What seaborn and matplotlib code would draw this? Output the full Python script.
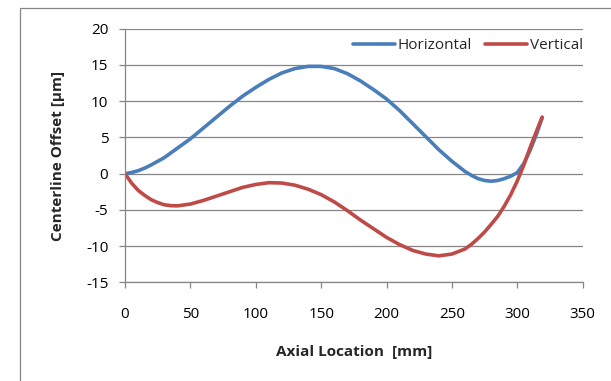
import matplotlib
matplotlib.use("Agg")
import matplotlib.pyplot as plt
from matplotlib.patches import Rectangle
import pandas as pd
import seaborn as sns

# Axial positions [mm] and measured centerline offsets [µm]
axial_mm = [0, 5, 10, 15, 20, 25, 30, 35, 40, 50, 60, 70, 80, 90, 100, 110, 120,
            130, 140, 150, 160, 170, 180, 190, 200, 210, 220, 230, 240, 250, 260,
            265, 270, 275, 280, 285, 290, 295, 300, 305, 310, 315, 319]
horizontal_um = [0.0, 0.15, 0.4, 0.75, 1.2, 1.7, 2.2, 2.85, 3.5, 4.8, 6.3, 7.8,
                 9.3, 10.7, 11.9, 13.0, 13.9, 14.5, 14.8, 14.8, 14.5, 13.8, 12.8,
                 11.6, 10.3, 8.7, 6.9, 5.1, 3.3, 1.7, 0.3, -0.25, -0.7, -0.95,
                 -1.05, -0.95, -0.7, -0.35, 0.15, 1.4, 3.3, 5.6, 7.7]
vertical_um = [0.0, -1.3, -2.3, -3.0, -3.6, -4.0, -4.3, -4.42, -4.45, -4.2,
               -3.7, -3.1, -2.5, -1.9, -1.5, -1.25, -1.3, -1.6, -2.15, -2.9, -3.9,
               -5.1, -6.4, -7.6, -8.8, -9.8, -10.6, -11.1, -11.35, -11.1, -10.4,
               -9.75, -8.95, -8.05, -7.0, -5.9, -4.5, -2.9, -1.0, 1.2, 3.7, 6.0, 7.8]
series_names = ["Horizontal", "Vertical"]
series_colors = ["#4A7EBB", "#BE4B48"]

x_ticks = [0, 50, 100, 150, 200, 250, 300, 350]
y_ticks = [-15, -10, -5, 0, 5, 10, 15, 20]

df = pd.DataFrame({
    "Axial Location [mm]": axial_mm * 2,
    "Offset": horizontal_um + vertical_um,
    "Direction": [series_names[0]] * len(axial_mm) + [series_names[1]] * len(axial_mm),
})

sns.set_theme(style="white")
plt.rcParams["font.family"] = ["Open Sans", "DejaVu Sans"]
plt.rcParams["axes.unicode_minus"] = False

grey = "#868686"
fs = 11
fig = plt.figure(figsize=(6.11, 3.81), dpi=100)
ax = fig.add_axes([125 / 611, 1 - 282.3 / 381, (582.7 - 125) / 611, (282.3 - 28.7) / 381])

sns.lineplot(data=df, x="Axial Location [mm]", y="Offset", hue="Direction",
             palette=dict(zip(series_names, series_colors)), linewidth=2.6,
             ax=ax, legend=True, sort=False)

ax.set_xlim(0, 350)
ax.set_ylim(-15, 20)
ax.set_xticks(x_ticks)
ax.set_yticks(y_ticks)
ax.yaxis.grid(True, color=grey, linewidth=0.9)
ax.xaxis.grid(False)
ax.set_axisbelow(True)
for side in ("top", "right"):
    ax.spines[side].set_visible(False)
for side in ("left", "bottom"):
    ax.spines[side].set_color(grey)
    ax.spines[side].set_linewidth(0.9)
ax.xaxis.set_ticks_position("bottom")
ax.yaxis.set_ticks_position("left")
ax.tick_params(axis="both", which="major", direction="out", length=4, width=0.9,
               color=grey, labelsize=fs, labelcolor="black")
ax.tick_params(axis="x", pad=14)
ax.tick_params(axis="y", pad=8)

ax.set_xlabel("Axial Location  [mm]", fontsize=fs, fontweight="bold", labelpad=16)
ax.set_ylabel("Centerline Offset [µm]", fontsize=fs, fontweight="bold", labelpad=15)

leg = ax.legend(loc="center right", ncol=2, frameon=False, fontsize=fs,
                handlelength=2.75, handletextpad=0.15, columnspacing=0.9,
                bbox_to_anchor=(1.0, 0.934), borderaxespad=0.0, borderpad=0.0)
for line in leg.get_lines():
    line.set_linewidth(2.6)

# Chart-area border (left and top edges visible)
fig.add_artist(Rectangle((20 / 611, -0.1), 1.2, 1.1 - 8 / 381,
                         transform=fig.transFigure, fill=False,
                         edgecolor=grey, linewidth=0.9, clip_on=False))

fig.savefig("out.png", dpi=100)
